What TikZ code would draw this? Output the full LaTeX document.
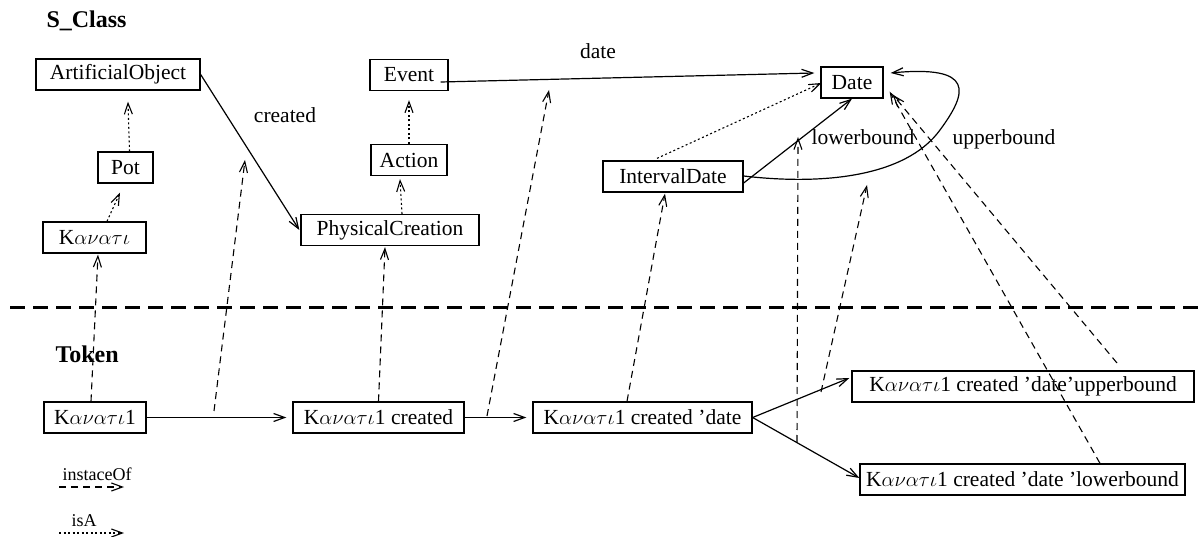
\documentclass[tikz,border=0pt]{standalone}
\usepackage{fontspec}
\setmainfont{Liberation Serif}
\usetikzlibrary{arrows.meta,calc}
\newcommand\kanati{K$\alpha\nu\alpha\tau\iota$}
\begin{document}
\begin{tikzpicture}[x=1bp,y=-1bp,
  >={Straight Barb[length=11bp,width=8bp]},
  every node/.style={font=\fontsize{21.5bp}{25bp}\selectfont},
  cbox/.style={draw, line width=1.3bp, minimum height=31bp, inner sep=0pt},
  rel/.style={->, line width=1.2bp},
  inst/.style={->, line width=1.1bp, dash pattern=on 7bp off 5bp},
  isa/.style={->, line width=1.1bp, dash pattern=on 2bp off 2.5bp},
  heading/.style={anchor=base west, font=\fontsize{24bp}{28bp}\selectfont\bfseries},
  legend/.style={anchor=base west, font=\fontsize{18bp}{21bp}\selectfont}]
\useasboundingbox (0,0) rectangle (1201,537);

% section headings and separator
\node[heading] (hclass) at (43,28) {S\_Class};
\node[heading] (htoken) at (52,363) {Token};
\coordinate (s1) at (10,308);
\coordinate (s2) at (1201,308);
\draw[line width=3bp, dash pattern=on 15bp off 8bp] (s1) -- (s2);

% class level
\node[cbox, minimum width=164bp] (AO) at (118,74.5) {ArtificialObject};
\node[cbox, minimum width=55bp] (Pot) at (125.5,167.5) {Pot};
\node[cbox, minimum width=103bp] (Kanati) at (94.5,237.5) {\kanati};
\node[cbox, minimum width=78bp] (Event) at (409,75) {Event};
\node[cbox, minimum width=76bp] (Action) at (409,160) {Action};
\node[cbox, minimum width=178bp] (PC) at (390,230) {PhysicalCreation};
\node[cbox, minimum width=62bp] (Date) at (852,82.5) {Date};
\node[cbox, minimum width=140bp] (ID) at (673,176.5) {IntervalDate};

% relation labels
\node[anchor=base] (lcreated) at (285,123) {created};
\node[anchor=base] (ldate) at (598,59) {date};
\node[anchor=base] (llow) at (863,145) {lowerbound};
\node[anchor=base] (lup) at (1004,145) {upperbound};

% token level
\node[cbox, minimum width=102bp] (K1) at (95,417.5) {\kanati1};
\node[cbox, minimum width=171bp] (K1c) at (378.5,417.5) {\kanati1 created};
\node[cbox, minimum width=219bp] (K1cd) at (642.5,417.5) {\kanati1 created ’date};
\node[cbox, minimum width=342bp] (up) at (1023,386.5) {\kanati1 created ’date’upperbound};
\node[cbox, minimum width=325bp] (low) at (1022.5,479.5) {\kanati1 created ’date ’lowerbound};

% class relations
\draw[rel] (AO.east) -- ($(PC.west)+(-1,0)$);
\draw[rel] ($(Event.east)+(-8,7)$) -- ($(Date.west)+(-6,-9.5)$);
\draw[rel] ($(ID.east)+(0,6.5)$) -- (Date.south);
\coordinate (bend) at (940,130);
\draw[rel] ($(ID.east)+(0,-0.5)$) .. controls (820,185) and (905,178) .. (bend)
  .. controls (968,92) and (975,65) .. ($(Date.east)+(7,-9.5)$);

% isA links
\draw[isa] ($(Pot.north)+(4,0)$) -- ($(AO.south)+(10,11)$);
\draw[isa] ($(Kanati.north)+(12.5,0)$) -- ($(Pot.south)+(-5.5,9)$);
\draw[isa] (Action.north) -- ($(Event.south)+(0,9)$);
\draw[isa] ($(PC.north)+(12,0)$) -- ($(Action.south)+(-9,3)$);
\draw[isa] ($(ID.north)+(-16,-2)$) -- ($(Date.west)+(1,0.5)$);

% token relations
\draw[rel] (K1.east) -- ($(K1c.west)+(-6,0)$);
\draw[rel] (K1c.east) -- ($(K1cd.west)+(-6,0)$);
\draw[rel] (K1cd.east) -- ($(up.west)+(-2,-8.5)$);
\draw[rel] (K1cd.east) -- ($(low.west)+(0,-1.5)$);

% instanceOf links
\coordinate (m1) at (214,411);
\coordinate (t1) at (245,160);
\coordinate (m2) at (487,416);
\coordinate (t2) at (549,90);
\coordinate (m3) at (797,442);
\coordinate (t3) at (798,137);
\coordinate (m4) at (821,392);
\coordinate (t4) at (867,185);
\coordinate (u1) at (1117,363);
\draw[inst] ($(K1.north)+(-4,0)$) -- ($(Kanati.south)+(3.5,1)$);
\draw[inst] (m1) -- (t1);
\draw[inst] (K1c.north) -- ($(PC.south)+(-5,1)$);
\draw[inst] (m2) -- (t2);
\draw[inst] ($(K1cd.north)+(-15.5,0)$) -- ($(ID.south)+(-8,1)$);
\draw[inst] (m3) -- (t3);
\draw[inst] (m4) -- (t4);
\draw[inst] (u1) -- ($(Date.south east)+(9,-4)$);
\draw[inst] ($(low.north)+(77.5,0)$) -- ($(Date.south east)+(6,-7)$);

% legend
\node[legend] (linst) at (59,480) {instaceOf};
\node[legend] (lisa) at (68,526) {isA};
\coordinate (la1) at (59,487);
\coordinate (la2) at (124,487);
\coordinate (lb1) at (59,533);
\coordinate (lb2) at (124,533);
\draw[inst] (la1) -- (la2);
\draw[isa] (lb1) -- (lb2);
\end{tikzpicture}
\end{document}
